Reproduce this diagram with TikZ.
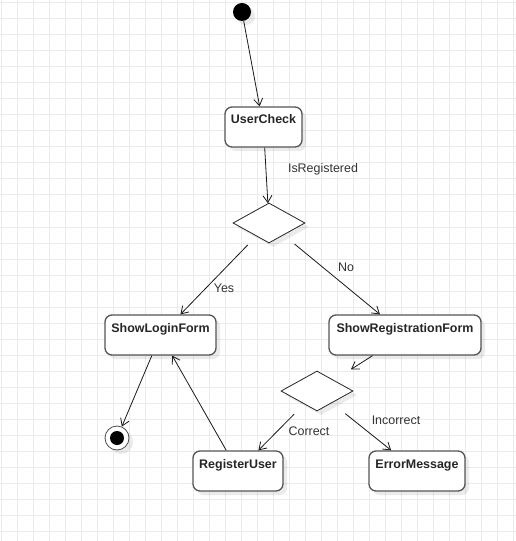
\documentclass[tikz,border=0pt]{standalone}
\usepackage{fontspec}
\setmainfont{Liberation Sans}
\usetikzlibrary{shapes.geometric, arrows.meta, shadows}

\definecolor{gridgray}{HTML}{EBEBEB}
\definecolor{boxgray}{HTML}{555555}
\definecolor{textgray}{HTML}{333333}

\begin{document}
\begin{tikzpicture}[x=1bp, y=-1bp,
		shade/.style={drop shadow={shadow xshift=4bp, shadow yshift=-4bp, fill=black, opacity=0.08}},
		state/.style={draw=boxgray, line width=1.3bp, rounded corners=7bp, fill=white, shade,
			font=\fontsize{12.5}{14}\selectfont\bfseries, text=black!85, inner xsep=2bp, inner ysep=7bp,
			text height=10bp, text depth=16bp, minimum height=40bp},
		choice/.style={diamond, draw=black!85, line width=0.8bp, fill=white, shade, inner sep=0pt,
			minimum width=72bp, minimum height=40bp},
		initial/.style={circle, fill=black, inner sep=0pt, minimum size=18bp, shade},
		final/.style={circle, draw=black!70, line width=0.8bp, fill=white, inner sep=0pt, minimum size=24bp, shade},
		core/.style={circle, fill=black, inner sep=0pt, minimum size=14bp},
		guard/.style={font=\fontsize{12.5}{14}\selectfont, text=textgray, inner sep=0pt},
		flow/.style={draw=black!90, line width=0.8bp, -{Straight Barb[length=7bp, width=9bp]}},
		gridline/.style={draw=gridgray, line width=1bp}]
		\useasboundingbox (0,0) rectangle (516,541);
		
		% Background grid
		\foreach \gx in {1,17,...,513}
			\draw[gridline] (\gx,0) -- (\gx,541);
		\foreach \gy in {3,19,...,531}
			\draw[gridline] (0,\gy) -- (516,\gy);
		
		\node[initial] (Start) at (242,12) {};
		\node[state, minimum width=77bp] (UserCheck) at (263.5,127) {UserCheck};
		\node[choice] (Check) at (269,223) {};
		\node[state, minimum width=111bp] (LoginForm) at (160.5,335) {ShowLoginForm};
		\node[state, minimum width=152bp] (RegForm) at (405,335) {ShowRegistrationForm};
		\node[choice] (Valid) at (317,391) {};
		\node[state, minimum width=90bp] (RegisterUser) at (238,471) {RegisterUser};
		\node[state, minimum width=96bp] (ErrorMessage) at (417,471) {ErrorMessage};
		\node[final] (Final) at (117,438) {};
		\node[core] (FinalCore) at (Final) {};
		
		\draw[flow] (Start) -- (UserCheck);
		\draw[flow] (UserCheck) -- (Check);
		\draw[flow, shorten <=12bp] (Check) -- (LoginForm);
		\draw[flow, shorten <=14bp] (Check) -- (RegForm);
		\draw[flow] (LoginForm) -- (Final);
		\draw[flow] (RegisterUser) -- (LoginForm);
		\draw[flow, shorten >=20bp] (RegForm) -- (Valid);
		\draw[flow, shorten <=14bp] (Valid) -- (RegisterUser);
		\draw[flow, shorten <=17bp] (Valid) -- (ErrorMessage);
		
		% Guard labels
		\node[guard] (IsRegistered) at (323,169) {IsRegistered};
		\node[guard] (Yes) at (224,288) {Yes};
		\node[guard] (No) at (346,267) {No};
		\node[guard] (Correct) at (309,431) {Correct};
		\node[guard] (Incorrect) at (396,420) {Incorrect};
\end{tikzpicture}
\end{document}
